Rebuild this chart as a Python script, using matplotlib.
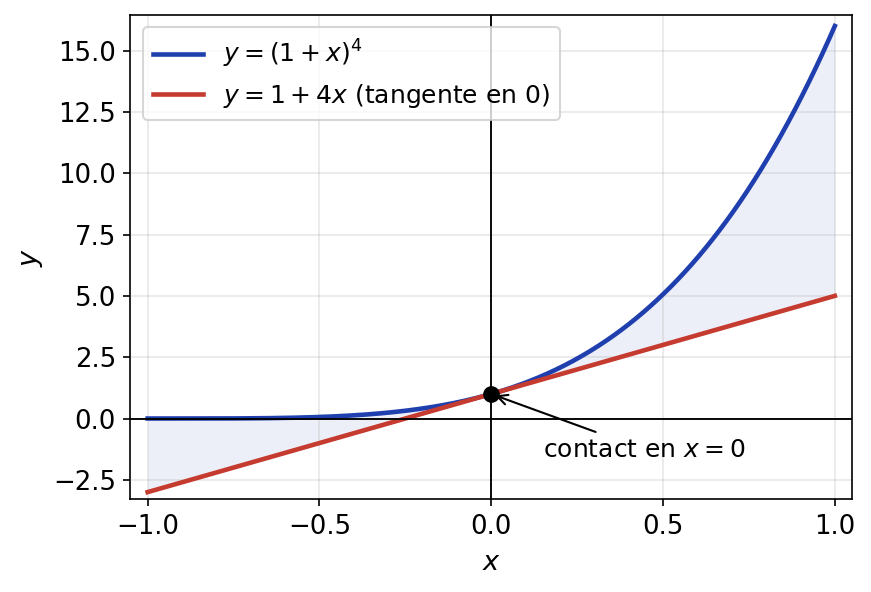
import numpy as np
import matplotlib.pyplot as plt

# data: the curve and its tangent at 0
x_min, x_max = -1.0, 1.0
n_points = 400
contact_x = 0.0
contact_y = 1.0
x_ticks = [-1.0, -0.5, 0.0, 0.5, 1.0]
curve_label = r"$y = (1+x)^4$"
tangent_label = r"$y = 1 + 4x$ (tangente en 0)"
note_text = r"contact en $x = 0$"

x = np.linspace(x_min, x_max, n_points)
y_curve = (1 + x) ** 4
y_tangent = 1 + 4 * x

blue = "#1f3fae"
red = "#c63b2f"

fig, ax = plt.subplots(figsize=(871 / 150, 592 / 150), dpi=150)
fig.subplots_adjust(left=0.1498, right=0.9782, top=0.9747, bottom=0.1563)

ax.fill_between(x, y_curve, y_tangent, color=blue, alpha=0.08, lw=0)
ax.plot(x, y_curve, color=blue, lw=2.2, label=curve_label)
ax.plot(x, y_tangent, color=red, lw=2.2, label=tangent_label)
ax.axhline(0, color="black", lw=0.9)
ax.axvline(0, color="black", lw=0.9)
ax.plot([contact_x], [contact_y], "o", color="black", ms=7, zorder=5)

ax.annotate(note_text, xy=(contact_x, contact_y), xytext=(0.15, -1.55),
            fontsize=12, arrowprops=dict(arrowstyle="->", color="black", lw=1))

ax.set_xlim(-1.05, 1.05)
ax.set_ylim(-3.3, 16.45)
ax.set_xticks(x_ticks)
ax.grid(True, alpha=0.3)
ax.tick_params(labelsize=12.5)
ax.set_xlabel(r"$x$", fontsize=13, labelpad=5)
ax.set_ylabel(r"$y$", fontsize=13)
ax.legend(loc="upper left", fontsize=12)

fig.savefig("out.png", dpi=150)
